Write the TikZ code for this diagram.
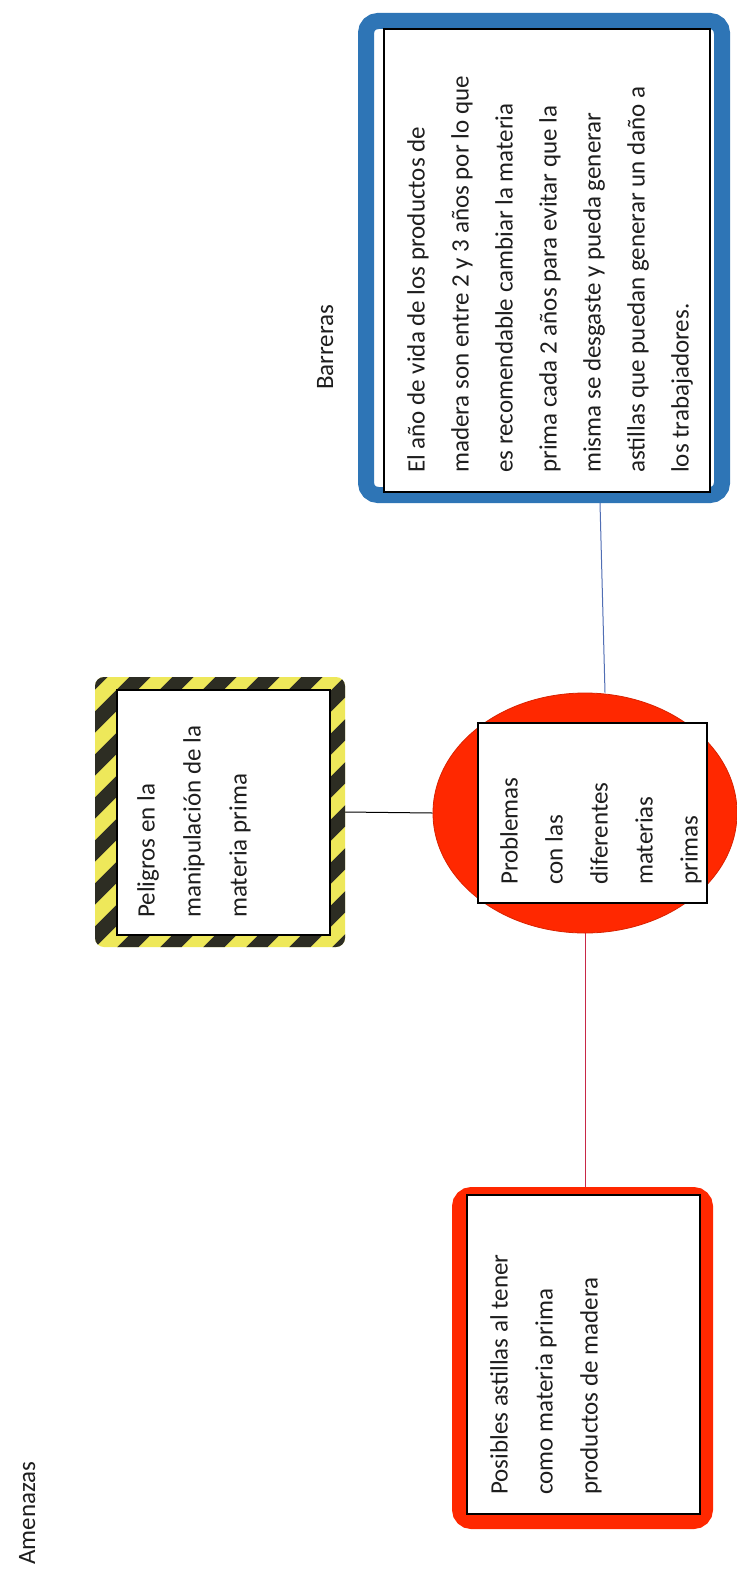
\documentclass[tikz,border=0pt]{standalone}
\usepackage{fontspec}
\setmainfont{Carlito}
\usetikzlibrary{shapes.geometric,backgrounds}
\definecolor{bluec}{RGB}{46,117,182}
\definecolor{redc}{RGB}{255,40,0}
\definecolor{redln}{RGB}{200,40,70}
\definecolor{blueln}{RGB}{80,110,180}
\definecolor{yellowc}{RGB}{238,232,90}
\definecolor{stripec}{RGB}{45,45,35}
\definecolor{txtc}{RGB}{30,30,30}
\begin{document}
\begin{tikzpicture}[x=1pt,y=-1pt,
  inbox/.style={draw=black, line width=1.4pt, fill=white, inner sep=0pt},
  txt/.style={rotate=90, anchor=north west, inner sep=0pt, align=left, text=txtc, font=\fontsize{25}{44}\selectfont},
  lbl/.style={rotate=90, anchor=base west, inner sep=0pt, text=txtc, font=\fontsize{25}{30}\selectfont},
  conn/.style={line width=1pt}]
\useasboundingbox (0,0) rectangle (736,1571);

% frames
\node[draw=bluec, line width=16pt, rounded corners=12pt, minimum width=356pt, minimum height=474pt, inner sep=0pt] (barreraframe) at (544,258) {};
\node[draw=redc, line width=15pt, rounded corners=12pt, minimum width=246pt, minimum height=327pt, inner sep=0pt] (amenazaframe) at (582.5,1358) {};
\node[fill=yellowc, rounded corners=9pt, minimum width=250pt, minimum height=270pt, inner sep=0pt,
  path picture={\foreach \a in {-430,-387,...,430} \draw[stripec, line width=15pt] ([xshift=\a pt]path picture bounding box.center) ++(-250pt,-250pt) -- ++(500pt,500pt);}] (peligroframe) at (220,812) {};
\node[ellipse, fill=redc, draw=redc!85!black, line width=0.8pt, minimum width=304pt, minimum height=240pt, inner sep=0pt] (centro) at (585,813) {};

% inner boxes
\node[inbox, minimum width=326pt, minimum height=463pt] (barrera) at (547,260.5) {};
\node[inbox, minimum width=213pt, minimum height=245pt] (peligro) at (223.5,812.5) {};
\node[inbox, minimum width=229pt, minimum height=180pt] (problema) at (592.5,813) {};
\node[inbox, minimum width=233pt, minimum height=319pt] (amenaza) at (583.5,1354.5) {};

% texts
\node[txt] (tb) at (407,473) {El año de vida de los productos de\\madera son entre 2 y 3 años por lo que\\es recomendable cambiar la materia\\prima cada 2 años para evitar que la\\misma se desgaste y pueda generar\\astillas que puedan generar un daño a\\los trabajadores.};
\node[txt, font=\fontsize{25}{46}\selectfont] (tp) at (137,918) {Peligros en la\\manipulación de la\\materia prima};
\node[txt, font=\fontsize{25}{45}\selectfont] (tc) at (500,885) {Problemas\\con las\\diferentes\\materias\\primas};
\node[txt, font=\fontsize{25}{45}\selectfont] (ta) at (490,1495) {Posibles astillas al tener\\como materia prima\\productos de madera};

\node[lbl] (lb) at (333,390) {Barreras};
\node[lbl] (la) at (35,1565) {Amenazas};

% connectors
\begin{scope}[on background layer]
\fill[white] (0,0) rectangle (736,1571);
\draw[conn, black] (peligroframe.east) -- (centro.west);
\draw[conn, blueln] ([xshift=56pt]barreraframe.south) -- ([xshift=20pt]centro.north);
\draw[conn, redln] (centro.south) -- (centro.south |- amenazaframe.north);
\end{scope}
\end{tikzpicture}
\end{document}
